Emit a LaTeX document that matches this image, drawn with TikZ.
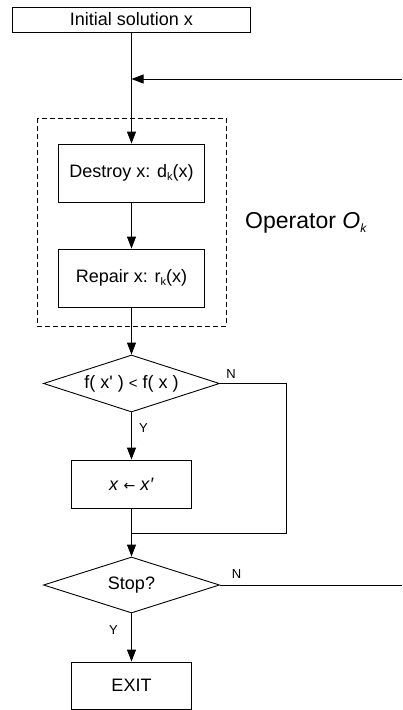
\documentclass[tikz,border=0pt]{standalone}
\usepackage{fontspec}
\setmainfont{Liberation Sans}
\newfontfamily\dejavu{DejaVu Sans}
\usetikzlibrary{shapes.geometric,arrows.meta}
\newcommand{\subk}{\raisebox{-0.25ex}{\fontsize{11}{11}\selectfont k}}
\tikzset{
  every node/.style={font=\fontsize{18}{20}\selectfont},
  box/.style={draw, line width=0.9pt, inner sep=0pt},
  dec/.style={draw, diamond, line width=0.9pt, inner sep=0pt, minimum width=176pt, minimum height=57pt},
  conn/.style={line width=0.9pt},
  arr/.style={conn, -{Triangle[length=12pt,width=9pt]}},
  lab/.style={font=\fontsize{13}{13}\selectfont, inner sep=0pt}
}
\begin{document}
\begin{tikzpicture}[x=1pt,y=-1pt]
\useasboundingbox (0,0) rectangle (402,710);
\node[box, minimum width=238pt, minimum height=25pt] (init) at (131.5,19.5) {Initial solution x};
\draw[dashed, line width=0.9pt, dash pattern=on 5pt off 3pt] (37,118) rectangle (226,326);
\node[box, minimum width=146pt, minimum height=58pt] (destroy) at (131.5,173) {Destroy x: d\subk(x)};
\node[box, minimum width=146pt, minimum height=58pt] (repair) at (131.5,278) {Repair x: r\subk(x)};
\node[inner sep=0pt, font=\fontsize{23}{25}\selectfont] (op) at (306,223) {Operator \textit{O}\raisebox{-0.35ex}{\fontsize{12}{12}\selectfont\textit{k}}};
\node[dec] (d1) at (131.5,383.5) {};
\node[inner sep=0pt] (d1t) at (d1.center) {f( x\textquotesingle\ ) {\fontsize{15}{15}\selectfont<} f( x )};
\node[box, minimum width=120pt, minimum height=48pt] (upd) at (131.5,484) {\textit{x} {\dejavu\fontsize{14}{14}\selectfont ←} \textit{x}{\fontsize{18}{18}\selectfont\textit{′}}};
\node[dec, minimum height=56pt] (d2) at (131.5,585) {};
\node[inner sep=0pt] (d2t) at (d2.center) {Stop?};
\node[box, minimum width=120pt, minimum height=47pt] (exit) at (131.5,685.5) {EXIT};

\coordinate (fb) at (131.5,79);
\coordinate (fbR) at (402,79);
\coordinate (n1) at (286,383.5);
\coordinate (n2) at (286,533);
\coordinate (j) at (131.5,533);
\coordinate (s2) at (402,585);

\draw[arr] (init.south) -- (destroy.north);
\draw[arr] (fbR) -- (fb);
\draw[arr] (destroy.south) -- (repair.north);
\draw[arr] (repair.south) -- (d1.north);
\draw[arr] (d1.south) -- (upd.north);
\draw[arr] (upd.south) -- (d2.north);
\draw[conn] (d1.east) -- (n1) -- (n2) -- (j);
\draw[conn] (d2.east) -- (s2);
\draw[arr] (d2.south) -- (exit.north);

\node[lab] (n1lab) at (231,374) {N};
\node[lab] (y1lab) at (143.5,428) {Y};
\node[lab] (n2lab) at (236.5,574.5) {N};
\node[lab] (y2lab) at (113.5,630.5) {Y};
\end{tikzpicture}
\end{document}
